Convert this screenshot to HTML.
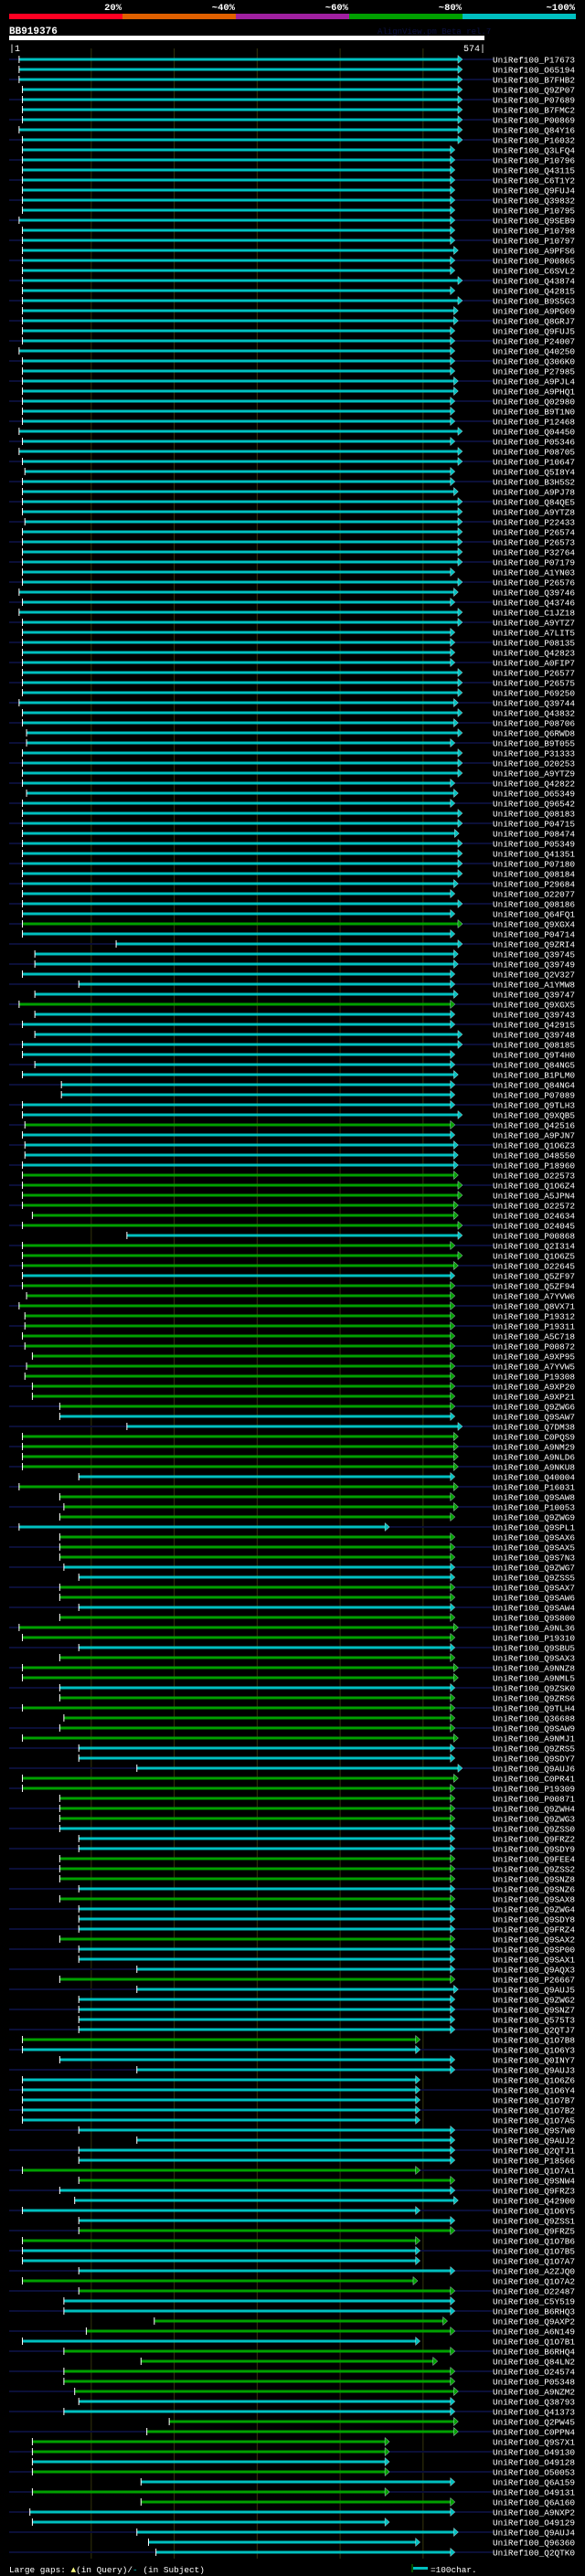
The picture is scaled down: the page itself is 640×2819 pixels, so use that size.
<!DOCTYPE html>
<html><head><meta charset="utf-8">
<style>
html,body{margin:0;padding:0;background:#000;}
svg{display:block;}
text{font-family:"Liberation Mono","DejaVu Sans Mono",monospace;}
</style></head>
<body>
<svg id="chart" width="640" height="2819" viewBox="0 0 640 2819" xmlns="http://www.w3.org/2000/svg">
<rect x="0" y="0" width="640" height="2819" fill="#000"/>
<g id="scale"></g>
<text x="10" y="37" fill="#fff" font-size="11" font-weight="bold">BB919376</text>
<text x="413" y="37" fill="#0c1040" font-size="9">AlignView.pm Beta rel.7</text>
<rect x="10" y="39" width="520" height="5" fill="#fff"/>
<text x="10" y="56" fill="#fff" font-size="10">|1</text>
<text x="531" y="56" fill="#fff" font-size="10" text-anchor="end">574|</text>
<g id="grid"></g>
<g id="rows"></g>
<text x="10" y="2815" fill="#fff" font-size="9.4">Large gaps: <tspan fill="#ffff80">▲</tspan>(in Query)/<tspan fill="#00c0c0">-</tspan> (in Subject)</text>
<line x1="451" y1="2806" x2="451" y2="2815" stroke="#00a000" stroke-width="1"/>
<rect x="452" y="2809" width="16" height="3" fill="#00c0c0"/>
<text x="471" y="2815" fill="#fff" font-size="9.4">=100char.</text>
</svg>
<script>
const scaleLabels = ["20%","~40%","~60%","~80%","~100%"];
const scaleColors = ["#ff0022","#e06000","#a020a0","#00a000","#00c0c0"];
const gridTicks = [100,200,300,400,500];
const queryLength = 574;
const labels = ["P17673","O65194","B7FHB2","Q9ZP07","P07689","B7FMC2","P00869","Q84Y16","P16032","Q3LFQ4","P10796","Q43115","C6T1Y2","Q9FUJ4","Q39832","P10795","Q9SEB9","P10798","P10797","A9PFS6","P00865","C6SVL2","Q43874","Q42815","B9S5G3","A9PG69","Q8GRJ7","Q9FUJ5","P24007","Q40250","Q306K0","P27985","A9PJL4","A9PHQ1","Q02980","B9T1N0","P12468","Q04450","P05346","P08705","P10647","Q5I8Y4","B3H5S2","A9PJ78","Q84QE5","A9YTZ8","P22433","P26574","P26573","P32764","P07179",
"A1YN03","P26576","Q39746","Q43746","C1JZ18","A9YTZ7","A7LIT5","P08135","Q42823","A0FIP7","P26577","P26575","P69250","Q39744","Q43832","P08706","Q6RWD8","B9T055","P31333","O20253","A9YTZ9","Q42822","O65349","Q96542","Q08183","P04715","P08474","P05349","Q41351","P07180","Q08184","P29684","O22077","Q08186","Q64FQ1","Q9XGX4","P04714","Q9ZRI4","Q39745","Q39749","Q2V327","A1YMW8","Q39747","Q9XGX5","Q39743","Q42915","Q39748","Q08185","Q9T4H0","Q84NG5",
"B1PLM0","Q84NG4","P07089","Q9TLH3","Q9XQB5","Q42516","A9PJN7","Q1O6Z3","O48550","P18960","O22573","Q1O6Z4","A5JPN4","O22572","O24634","O24045","P00868","Q2I314","Q1O6Z5","O22645","Q5ZF97","Q5ZF94","A7YVW6","Q8VX71","P19312","P19311","A5C718","P00872","A9XP95","A7YVW5","P19308","A9XP20","A9XP21","Q9ZWG6","Q9SAW7","Q7DM38","C0PQS9","A9NM29","A9NLD6","A9NKU8","Q40004","P16031","Q9SAW8","P10053","Q9ZWG9","Q9SPL1","Q9SAX6","Q9SAX5","Q9S7N3","Q9ZWG7","Q9ZSS5",
"Q9SAX7","Q9SAW6","Q9SAW4","Q9S800","A9NL36","P19310","Q9SBU5","Q9SAX3","A9NNZ8","A9NML5","Q9ZSK0","Q9ZRS6","Q9TLH4","Q36688","Q9SAW9","A9NMJ1","Q9ZRS5","Q9SDY7","Q9AUJ6","C0PR41","P19309","P00871","Q9ZWH4","Q9ZWG3","Q9ZSS0","Q9FRZ2","Q9SDY9","Q9FEE4","Q9ZSS2","Q9SNZ8","Q9SNZ6","Q9SAX8","Q9ZWG4","Q9SDY8","Q9FRZ4","Q9SAX2","Q9SP00","Q9SAX1","Q9AQX3","P26667","Q9AUJ5","Q9ZWG2","Q9SNZ7","Q575T3","Q2QTJ7","Q1O7B8","Q1O6Y3","Q0INY7","Q9AUJ3","Q1O6Z6","Q1O6Y4",
"Q1O7B7","Q1O7B2","Q1O7A5","Q9S7W0","Q9AUJ2","Q2QTJ1","P18566","Q1O7A1","Q9SNW4","Q9FRZ3","Q42900","Q1O6Y5","Q9ZSS1","Q9FRZ5","Q1O7B6","Q1O7B5","Q1O7A7","A2ZJQ0","Q1O7A2","O22487","C5Y519","B6RHQ3","Q9AXP2","A6N149","Q1O7B1","B6RHQ4","Q84LN2","O24574","P05348","A9NZM2","Q38793","Q41373","Q2PW45","C0PPN4","Q9S7X1","O49130","O49128","O50053","Q6A159","O49131","Q6A160","A9NXP2","O49129","Q9AUJ4","Q96360","Q2QTK0"];
const starts = [13,13,13,17,17,17,17,13,17,17,17,17,17,17,17,17,13,17,17,17,17,17,17,17,17,17,17,17,17,13,17,17,17,17,17,17,17,13,17,13,17,20,17,17,17,17,20,17,17,17,17,
17,17,13,17,13,17,17,17,17,17,17,17,17,13,17,17,22,22,17,17,17,17,22,17,17,17,17,17,17,17,17,17,17,17,17,17,17,130,32,32,17,85,32,13,32,17,32,17,17,32,
17,64,64,17,17,20,17,20,20,17,17,17,17,17,29,17,143,17,17,17,17,17,22,13,20,20,17,20,29,22,20,29,29,62,62,143,17,17,17,17,85,13,62,67,62,13,62,62,62,67,85,
62,62,85,62,13,17,85,62,17,17,62,62,17,67,62,17,85,85,155,17,17,62,62,62,62,85,85,62,62,62,85,62,85,85,85,62,85,85,155,62,155,85,85,85,85,17,17,62,155,17,17,
17,17,17,85,155,85,85,17,85,62,80,17,85,85,17,17,17,85,17,85,67,67,176,94,17,67,160,67,67,80,85,67,194,167,29,29,29,29,160,29,160,26,29,155,169,178];
const ends = [542,542,542,542,542,542,542,542,542,533,533,533,533,533,533,533,533,533,533,537,533,533,542,533,542,537,537,533,533,533,533,533,537,537,533,533,533,542,533,542,542,533,533,537,542,542,542,542,542,542,542,
533,542,537,533,542,542,533,533,533,533,542,542,542,537,542,537,542,533,542,542,542,533,537,533,542,542,538,542,542,542,542,537,533,542,533,542,533,542,537,537,533,533,537,533,533,533,542,542,533,533,
537,533,533,533,542,533,533,537,537,537,537,542,542,537,537,542,542,533,542,537,533,533,533,533,533,533,533,533,533,533,533,533,533,533,533,542,537,537,537,537,533,537,533,537,533,454,533,533,533,533,533,
533,533,533,533,537,533,533,533,537,537,533,533,533,533,533,537,533,533,542,537,533,533,533,533,533,533,533,533,533,533,533,533,533,533,533,533,533,533,533,533,537,533,533,533,533,491,491,533,533,491,491,
491,491,491,533,533,533,533,491,533,533,537,491,533,533,491,491,491,533,488,533,533,533,524,533,491,533,512,533,533,537,533,533,537,537,454,454,454,454,533,454,533,533,454,537,491,533];
const identity =
  "ccccccccccccccccccccccccccccccccccccccccccccccccccc" +
  "cccccccccccccccccccccccccccccccccccgcccccccgcccccc" +
  "cccccgccccggggggcgggcgggggggggggggccggggcggggcgggcc" +
  "ggcgggcgggcgggggcccgggggcccgggcgcccgcccgcccccgccc" +
  "cccccccccggccccggcccggccggcgggggccggggcgcggccc";

const svgNS = "http://www.w3.org/2000/svg";
const svg = document.getElementById('chart');
const xScale = r => 10 + (r - 1) * (520 / (queryLength - 1));
const rowY = i => 65 + i * 11;
const colorOf = k => k === 'g' ? '#00a000' : '#00c0c0';
function mk(tag, attrs, parent){ const e = document.createElementNS(svgNS, tag); for (const k in attrs) e.setAttribute(k, attrs[k]); parent.appendChild(e); return e; }

const scaleG = document.getElementById('scale');
const segW = 124;
scaleLabels.forEach((lab, i) => {
  const r = mk('rect', {x: 10 + i*segW, y: 15, width: segW, height: 6, fill: scaleColors[i]}, scaleG);
  
  
  const t = mk('text', {x: 10 + (i+1)*segW - 1, y: 11, fill: '#fff', 'font-size': 10.5, 'font-weight': 'bold', 'text-anchor': 'end'}, scaleG);
  t.textContent = lab;
  
  
});

const gridG = document.getElementById('grid');
gridTicks.forEach(t => {
  const l = mk('line', {x1: xScale(t), x2: xScale(t), y1: 53, y2: 2800, stroke: '#34340c', 'stroke-width': 1}, gridG);
  
  
});

const rowsG = document.getElementById('rows');
labels.forEach((lab, i) => {
  const y = rowY(i);
  const g = mk('g', {}, rowsG);
  
  
  if (i % 2 === 0) {
    const bg = mk('rect', {x: 10, y: y - 1, width: 530, height: 2, fill: '#0b0f38'}, g);
    
    
  }
  const x0 = xScale(starts[i]), x1 = xScale(ends[i]);
  const c = colorOf(identity[i]);
  const bar = mk('rect', {x: x0, y: y - 1.5, width: x1 - x0, height: 3, fill: c}, g);
  
  
  const arr = mk('polygon', {points: `${x1},${y-4.5} ${x1+5},${y} ${x1},${y+4.5}`, fill: c, stroke: '#e0ffff', 'stroke-width': 0.4}, g);
  
  
  const tick = mk('rect', {x: x0 - 0.5, y: y - 4, width: 1, height: 8, fill: '#fff'}, g);
  
  
  const t = mk('text', {x: 539, y: y + 3.5, fill: '#fff', 'font-size': 9.4}, g);
  t.textContent = 'UniRef100_' + lab;
  
  
});
</script>
</body></html>
